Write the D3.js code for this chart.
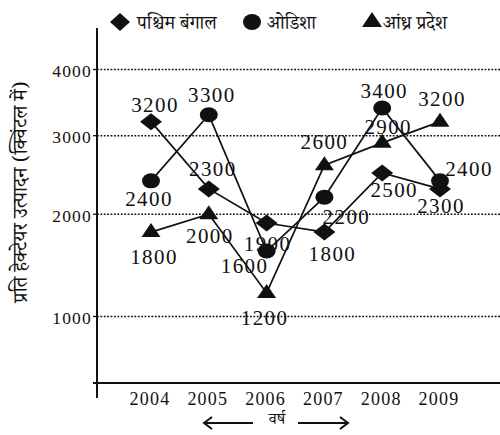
<!DOCTYPE html>
<html>
<head>
<meta charset="utf-8">
<script src="https://cdn.jsdelivr.net/npm/d3@7"></script>
<style>
  html, body { margin: 0; padding: 0; background: #fff; }
  svg { display: block; }
  .num { font-family: "Liberation Serif", "Times New Roman", "DejaVu Serif", serif; fill: #111; }
  .hin { font-family: "Noto Serif Devanagari", "Noto Sans Devanagari", "Lohit Devanagari", "Noto Sans", sans-serif; fill: #111; }
</style>
</head>
<body>
<script>
// ---- data ----
const years = ["2004", "2005", "2006", "2007", "2008", "2009"];
const westBengal = [3200, 2300, 1900, 1800, 2500, 2300];
const odisha = [2400, 3300, 1600, 2200, 3400, 2400];
const andhraPradesh = [1800, 2000, 1200, 2600, 2900, 3200];
const yTicks = [1000, 2000, 3000, 4000];
const seriesNames = ["पश्चिम बंगाल", "ओडिशा", "आंध्र प्रदेश"];
const yTitle = "प्रति हेक्टेयर उत्पादन (क्विंटल में)";
const xTitle = "वर्ष";

// label placement offsets (layout only)
const wbLabelOffsets = [[4,-10],[4,-13],[1,28],[8,29],[12,24],[1,24]];
const odLabelOffsets = [[-2,25],[3,-13],[-22,22],[22,27],[2,-10],[29,-5]];
const apLabelOffsets = [[3,32],[1,29],[-2,32],[0,-16],[6,-9],[2,-16]];

const W = 500, H = 435;
const svg = d3.select("body").append("svg").attr("width", W).attr("height", H);
svg.append("rect").attr("width", W).attr("height", H).attr("fill", "#fff");

const x = d3.scalePoint().domain(years).range([151, 440]);
const y = d3.scaleSqrt().domain([1000, 4000]).range([316.5, 69.5]);
const axisX = 97, axisY = 383;

// gridlines
svg.append("g").selectAll("line").data(yTicks).join("line")
  .attr("x1", axisX).attr("x2", 500)
  .attr("y1", d => y(d)).attr("y2", d => y(d))
  .attr("stroke", "#111").attr("stroke-width", 1.6)
  .attr("stroke-dasharray", "1.8,1.6");

// tick marks
svg.append("g").selectAll("line").data(yTicks).join("line")
  .attr("x1", axisX - 4).attr("x2", axisX)
  .attr("y1", d => y(d)).attr("y2", d => y(d))
  .attr("stroke", "#111").attr("stroke-width", 1.3);

// tick labels
svg.append("g").selectAll("text").data(yTicks).join("text")
  .attr("class", "num")
  .attr("x", 92).attr("y", d => y(d) + 7.5)
  .attr("text-anchor", "end")
  .attr("font-size", 17.5).attr("letter-spacing", 1.2)
  .text(d => d);

// axes
svg.append("line").attr("x1", axisX).attr("x2", axisX).attr("y1", 28).attr("y2", 398)
  .attr("stroke", "#111").attr("stroke-width", 2);
svg.append("line").attr("x1", 93).attr("x2", 500).attr("y1", axisY).attr("y2", axisY)
  .attr("stroke", "#111").attr("stroke-width", 2);

// x labels
svg.append("g").selectAll("text").data(years).join("text")
  .attr("class", "num")
  .attr("x", d => x(d) - 1).attr("y", 405)
  .attr("text-anchor", "middle")
  .attr("font-size", 18).attr("letter-spacing", 1.2)
  .text(d => d);

// series
const line = d3.line().x((d, i) => x(years[i])).y(d => y(d));
const symbols = {
  diamond: "M0,-8.5L11,0L0,8.5L-11,0Z",
  triangle: "M0,-9L9.5,5L-9.5,5Z"
};
function drawSeries(values, shape, offsets) {
  svg.append("path").datum(values).attr("d", line)
    .attr("fill", "none").attr("stroke", "#111").attr("stroke-width", 1.7);
  const g = svg.append("g");
  values.forEach((v, i) => {
    const cx = x(years[i]), cy = y(v);
    if (shape === "circle") {
      g.append("ellipse").attr("cx", cx).attr("cy", cy).attr("rx", 9).attr("ry", 7.5).attr("fill", "#111");
    } else {
      g.append("path").attr("d", symbols[shape]).attr("transform", `translate(${cx},${cy})`).attr("fill", "#111");
    }
    g.append("text").attr("class", "num")
      .attr("x", cx + offsets[i][0]).attr("y", cy + offsets[i][1])
      .attr("text-anchor", "middle")
      .attr("font-size", 21).attr("letter-spacing", 1.4)
      .text(v);
  });
}
drawSeries(westBengal, "diamond", wbLabelOffsets);
drawSeries(odisha, "circle", odLabelOffsets);
drawSeries(andhraPradesh, "triangle", apLabelOffsets);

// legend
const lg = svg.append("g");
lg.append("path").attr("d", "M0,-9L10,0L0,9L-10,0Z").attr("transform", "translate(120,22)").attr("fill", "#111");
lg.append("text").attr("class", "hin").attr("x", 137).attr("y", 29).attr("font-size", 19).text(seriesNames[0]);
lg.append("ellipse").attr("cx", 252).attr("cy", 22).attr("rx", 9).attr("ry", 8).attr("fill", "#111");
lg.append("text").attr("class", "hin").attr("x", 267).attr("y", 29).attr("font-size", 19).text(seriesNames[1]);
lg.append("path").attr("d", "M0,-9L10,6L-10,6Z").attr("transform", "translate(372,21)").attr("fill", "#111");
lg.append("text").attr("class", "hin").attr("x", 383).attr("y", 29).attr("font-size", 19).text(seriesNames[2]);

// y title
svg.append("text").attr("class", "hin")
  .attr("transform", "translate(27,192) rotate(-90)")
  .attr("text-anchor", "middle").attr("font-size", 20)
  .text(yTitle);

// x title with arrows
svg.append("text").attr("class", "hin").attr("x", 277).attr("y", 424)
  .attr("text-anchor", "middle").attr("font-size", 16).text(xTitle);
const ar = svg.append("g").attr("stroke", "#111").attr("stroke-width", 2).attr("fill", "none");
ar.append("line").attr("x1", 204).attr("x2", 253).attr("y1", 423).attr("y2", 423);
ar.append("path").attr("d", "M212,417L204,423L212,429");
ar.append("line").attr("x1", 298).attr("x2", 348).attr("y1", 423).attr("y2", 423);
ar.append("path").attr("d", "M340,417L348,423L340,429");
</script>
</body>
</html>
